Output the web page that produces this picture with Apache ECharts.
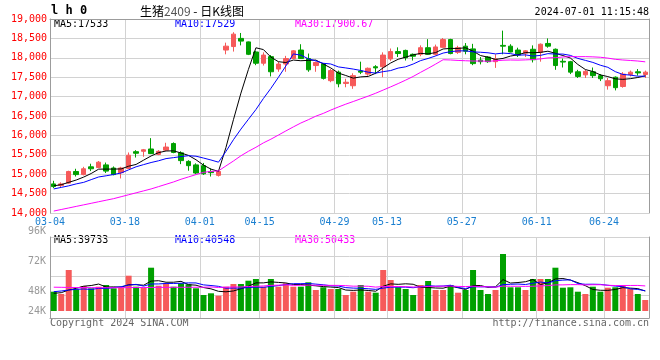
<!DOCTYPE html>
<html><head><meta charset="utf-8">
<script src="https://cdn.jsdelivr.net/npm/echarts/dist/echarts.min.js"></script>
<style>html,body{margin:0;padding:0;background:#fff}#c{width:660px;height:360px}</style>
</head><body><div id="c"></div>
<script>
const dates = ['03-04','03-05','03-06','03-07','03-08','03-11','03-12','03-13','03-14','03-15',
'03-18','03-19','03-20','03-21','03-22','03-25','03-26','03-27','03-28','03-29',
'04-01','04-02','04-03','04-08','04-09','04-10','04-11','04-12','04-15','04-16',
'04-17','04-18','04-19','04-22','04-23','04-24','04-25','04-26','04-29','04-30',
'05-06','05-07','05-08','05-09','05-10','05-13','05-14','05-15','05-16','05-17',
'05-20','05-21','05-22','05-23','05-24','05-27','05-28','05-29','05-30','05-31',
'06-03','06-04','06-05','06-06','06-07','06-11','06-12','06-13','06-14','06-17',
'06-18','06-19','06-20','06-21','06-24','06-25','06-26','06-27','06-28','07-01'];
const dateLabelIdx = [0,10,20,28,38,45,55,65,74];

const opens = [14750,14710,14770,15070,14990,15190,15170,15240,15160,15040,
15150,15580,15590,15650,15510,15620,15790,15550,15330,15240,
15220,15070,14970,18200,18290,18500,18410,18150,17860,18030,
17710,17840,17980,18200,17980,17800,17840,17410,17630,17340,
17280,17660,17580,17770,17770,17970,18160,18190,18090,18090,
18260,18090,18270,18470,18140,18300,18230,17940,18020,17900,
18320,18300,18200,18120,18220,18140,18370,18220,17910,17900,
17640,17560,17640,17540,17280,17500,17260,17570,17640,17570];
const closes = [14680,14750,15070,14990,15140,15140,15310,15080,14990,15160,
15490,15540,15630,15530,15590,15700,15560,15350,15220,15030,
15010,15040,15070,18300,18610,18430,18090,17860,18070,17640,
17840,17980,18180,17980,17690,17880,17470,17670,17330,17370,
17540,17630,17730,17740,18070,18160,18110,18000,18040,18260,
18090,18280,18470,18110,18260,18170,17850,17900,17900,17970,
18300,18150,18070,18180,17950,18350,18300,17800,17890,17630,
17520,17650,17540,17460,17410,17230,17580,17630,17610,17630];
const lows = [14640,14670,14750,14940,14970,15080,15160,15030,14970,14890,
15140,15430,15450,15520,15490,15600,15540,15260,15090,15000,
14980,14940,14940,18090,18160,18320,18070,17810,17800,17520,
17640,17640,17970,17970,17640,17640,17440,17370,17240,17240,
17200,17580,17540,17580,17500,17920,18020,17930,17930,18040,
18080,18060,18260,18090,18100,18090,17810,17830,17870,17740,
18090,18140,18020,18020,17880,17900,18260,17690,17750,17580,
17480,17480,17480,17400,17180,17160,17230,17520,17540,17480];
const highs = [14830,14790,15090,15140,15190,15270,15340,15300,15200,15190,
15560,15620,15650,15930,15620,15810,15820,15590,15360,15280,
15290,15150,15090,18390,18660,18640,18420,18180,18140,18070,
17900,18050,18200,18350,18110,17900,17860,17710,17670,17460,
17600,17900,17750,17810,18140,18240,18270,18210,18110,18320,
18480,18340,18510,18490,18310,18380,18360,18020,18040,18090,
18700,18350,18260,18200,18320,18370,18500,18240,17980,17920,
17690,17690,17750,17580,17480,17520,17630,17670,17710,17670];

const ma5 = [14700,14730,14790,14850,14926,15018,15130,15132,15132,15136,
15206,15252,15362,15470,15556,15598,15602,15546,15484,15372,
15234,15130,15074,15690,16406,17090,17700,18258,18212,18018,
17900,17878,17942,17924,17934,17942,17840,17738,17608,17544,
17476,17508,17520,17602,17742,17866,17962,18016,18076,18114,
18100,18134,18228,18242,18242,18258,18172,18058,18016,17958,
17984,18044,18078,18134,18130,18140,18170,18116,18058,17994,
17828,17698,17646,17560,17516,17458,17444,17462,17492,17536];
const ma10 = [14620,14660,14700,14750,14790,14860,14929,14959,14993,15031,
15112,15191,15247,15301,15346,15402,15427,15454,15477,15464,
15416,15366,15310,15587,15889,16162,16415,16666,16951,17212,
17495,17789,18100,18068,17976,17921,17859,17840,17766,17739,
17709,17674,17629,17605,17643,17671,17735,17768,17839,17928,
17983,18048,18122,18159,18178,18179,18153,18143,18129,18100,
18121,18108,18068,18075,18044,18062,18107,18097,18096,18062,
17984,17934,17881,17809,17755,17643,17571,17554,17526,17526];
const ma30 = [14050,14090,14130,14170,14210,14250,14290,14330,14370,14420,
14470,14520,14570,14620,14680,14740,14800,14870,14930,14990,
15048,15072,15086,15213,15340,15475,15590,15693,15807,15902,
16008,16115,16219,16319,16404,16495,16567,16653,16731,16805,
16873,16943,17013,17087,17169,17251,17336,17425,17519,17626,
17729,17837,17950,17944,17932,17924,17916,17917,17911,17922,
17938,17943,17940,17946,17955,17971,17998,18003,18021,18030,
18029,18030,18024,18014,17992,17961,17944,17931,17917,17896];

// volume in thousands of lots
const volumesK = [38.6,34,82,43.4,50,45.4,48.6,52,45.4,46.6,
70.6,48.6,46.6,86.6,50.6,55.4,48.6,55.4,53.4,45.4,
32,35.4,30.6,48.6,54,54,60.6,64,48.6,64,
48.6,55.4,48.6,48.6,57.4,42,47.4,44,44,32,
38.6,52,38.6,36.6,82,62,47.4,44,32,52,
60,42,42,52,36.6,42,82,42,34,42,
114,47.4,47.4,42,64,64,64,86.6,46.6,47.4,
38.6,34,48.6,38.6,46.6,47.4,52,44,34,22];
const volMa5 = [35.4,36.6,42,45.4,49.6,50.96,53.88,47.88,48.28,47.6,
52.64,52.64,51.56,59.8,60.6,57.56,57.56,59.32,52.68,51.64,
46.96,44.32,39.36,38.4,40.12,44.52,49.56,56.24,56.24,58.24,
57.16,56.12,53.04,53.04,51.72,50.4,48.8,47.88,46.96,41.88,
41.2,42.12,41.04,39.56,49.56,54.24,53.32,54.4,53.48,47.48,
47.08,46,45.6,49.6,46.52,42.92,50.92,50.92,47.32,48.4,
62.8,55.88,56.96,58.56,62.96,52.96,56.28,64.12,65.04,61.72,
56.64,50.64,43.04,41.44,41.28,43.04,46.64,45.72,44.8,39.88];
const volMa10 = [38.6,40,42,43.4,44,43.18,45.24,44.94,46.84,48.6,
51.8,53.26,49.72,54.04,54.1,55.1,55.1,55.44,56.24,56.12,
52.26,50.94,49.34,45.54,45.88,45.74,46.94,47.8,47.32,49.18,
50.84,52.84,54.64,54.64,54.98,53.78,52.46,50.46,50,46.8,
45.8,45.46,44.46,43.26,45.72,47.72,47.72,47.72,46.52,48.52,
50.66,49.66,50,51.54,47,45,48.46,48.26,48.46,47.46,
52.86,53.4,53.94,52.94,55.68,57.88,56.08,60.54,61.8,62.34,
54.8,53.46,53.58,53.24,51.5,49.84,48.64,44.38,43.12,40.58];
const volMa30 = [47.6,47.4,47.1,47,46.9,46.7,46.6,46.6,46.5,46.6,
46.8,46.9,47,47.2,47.3,47.3,47.4,47.4,47.5,47.5,
47.55,48.07,47.02,47.66,47.99,48.01,49.09,49.39,50.13,51.3,
51.63,52.35,51.23,51.41,51.65,51.54,51.5,51.23,51.19,50.7,
49.63,49.75,49.48,47.81,48.86,49.08,49.04,48.66,47.95,48.17,
49.1,49.32,49.7,49.81,49.23,48.83,49.55,48.81,48.33,47.59,
49.77,49.51,49.47,49.25,49.47,50.2,50.75,52.17,52.26,52.77,
52.77,52.17,52.51,52.57,51.39,50.91,51.06,51.06,51.13,50.13];

const priceMin = 14000, priceMax = 19000, priceStep = 500;
const volTickLabels = ['24K','48K','72K','96K'];
const volTickSlots = [0,2,5,8];
const priceLegend = ['MA5:17533','MA10:17529','MA30:17900.67'];
const volLegend = ['MA5:39733','MA10:40548','MA30:50433'];
const titleCode = 'l h 0';
const timeStamp = '2024-07-01 11:15:48';

const RED = '#f65a5a', GREEN = '#00a000';
const GRID_C = '#d2d2d2', FRAME_C = '#9c9c9c';
const MONO = '"DejaVu Sans Mono", monospace';
const isLabelIdx = (i) => dateLabelIdx.indexOf(i) >= 0;
const maColors = ['#000000', '#0000ff', '#ff00ff'];
const volSlotNames = Array.from({length: 9}, (_, k) => String(k));
const gridLine = () => ({color: GRID_C, width: 1, type: 'solid'});

const lineSeries = (data, color, xi, yi) => ({
  type: 'line', data, xAxisIndex: xi, yAxisIndex: yi, symbol: 'none',
  lineStyle: {color, width: 1}, itemStyle: {color}, z: 5, silent: true
});

const option = {
  animation: false,
  backgroundColor: '#ffffff',
  textStyle: {fontFamily: MONO},
  grid: [
    {left: 50, width: 599, top: 19, height: 194},
    {left: 50, width: 599, top: 237, height: 74},
    {left: 50, width: 599, top: 237, height: 81},
    {left: 50, width: 599, top: 237, height: 78},
    {left: 50, width: 599, top: 231, height: 80}
  ],
  xAxis: [
    {type: 'category', gridIndex: 0, data: dates, boundaryGap: true, position: 'bottom',
     axisLine: {show: false}, axisTick: {show: false},
     axisLabel: {show: true, interval: (i) => isLabelIdx(i), color: '#1a7fd0', fontSize: 10,
                 fontFamily: MONO, margin: 4, padding: [0, 7.5, 0, 0]},
     splitLine: {show: true, interval: (i) => isLabelIdx(i), lineStyle: gridLine()}},
    {type: 'category', gridIndex: 0, data: dates, position: 'top',
     axisLine: {show: true, lineStyle: {color: FRAME_C}}, axisTick: {show: false},
     axisLabel: {show: false}, splitLine: {show: false}},
    {type: 'category', gridIndex: 1, data: dates, show: false},
    {type: 'category', gridIndex: 2, data: dates, position: 'bottom',
     axisLine: {show: true, lineStyle: {color: FRAME_C}}, axisTick: {show: false},
     axisLabel: {show: false},
     splitLine: {show: true, interval: (i) => isLabelIdx(i), lineStyle: gridLine()}},
    {type: 'value', gridIndex: 3, show: false, min: 0, max: 1},
    {type: 'value', gridIndex: 4, show: false, min: 0, max: 1}
  ],
  yAxis: [
    {type: 'value', gridIndex: 0, position: 'left', min: priceMin, max: priceMax, interval: priceStep,
     axisLine: {show: true, lineStyle: {color: FRAME_C}}, axisTick: {show: false},
     axisLabel: {color: '#ff0000', fontSize: 10, fontFamily: MONO, margin: 3},
     splitLine: {show: true, lineStyle: gridLine()}},
    {type: 'value', gridIndex: 0, position: 'right', min: priceMin, max: priceMax,
     axisLine: {show: true, lineStyle: {color: FRAME_C}}, axisTick: {show: false},
     axisLabel: {show: false}, splitLine: {show: false}},
    {type: 'value', gridIndex: 1, min: 0, max: 148, show: false},
    {type: 'value', gridIndex: 2, position: 'left', min: 0, max: 1,
     axisLine: {show: true, onZero: false, lineStyle: {color: FRAME_C}}, axisTick: {show: false},
     axisLabel: {show: false}, splitLine: {show: false}},
    {type: 'value', gridIndex: 2, position: 'right', min: 0, max: 1,
     axisLine: {show: true, onZero: false, lineStyle: {color: FRAME_C}}, axisTick: {show: false},
     axisLabel: {show: false}, splitLine: {show: false}},
    {type: 'value', gridIndex: 3, inverse: true, min: 0, max: 78, interval: 19.5,
     axisLine: {show: false}, axisTick: {show: false}, axisLabel: {show: false},
     splitLine: {show: true, showMaxLine: false, lineStyle: gridLine()}},
    {type: 'category', gridIndex: 4, data: volSlotNames, boundaryGap: false,
     axisLine: {show: false}, axisTick: {show: false}, splitLine: {show: false},
     axisLabel: {interval: 0, color: '#999999', fontSize: 10, fontFamily: MONO, margin: 4,
       formatter: (v, idx) => { const k = volTickSlots.indexOf(idx); return k >= 0 ? volTickLabels[k] : ''; }}}
  ],
  series: [
    {type: 'candlestick', xAxisIndex: 0, yAxisIndex: 0, barWidth: 5,
     data: dates.map((d, i) => [opens[i], closes[i], lows[i], highs[i]]),
     itemStyle: {color: RED, color0: GREEN, borderColor: RED, borderColor0: GREEN, borderWidth: 1}},
    lineSeries(ma5, maColors[0], 0, 0),
    lineSeries(ma10, maColors[1], 0, 0),
    lineSeries(ma30, maColors[2], 0, 0),
    {type: 'bar', xAxisIndex: 2, yAxisIndex: 2, barWidth: 6,
     data: volumesK.map((v, i) => ({value: v, itemStyle: {color: closes[i] >= opens[i] ? RED : GREEN}}))},
    lineSeries(volMa5, maColors[0], 2, 2),
    lineSeries(volMa10, maColors[1], 2, 2),
    lineSeries(volMa30, maColors[2], 2, 2)
  ],
  graphic: [
    {type: 'text', x: 51, y: 11, style: {text: titleCode, fill: '#000', font: 'bold 12px ' + MONO, textVerticalAlign: 'middle'}},
    {type: 'text', x: 140, y: 11, style: {
      text: '{a|生猪}{b|2409}{a| - 日K线图}', textVerticalAlign: 'middle',
      rich: {a: {fill: '#000', font: '12px "Noto Sans CJK SC"'}, b: {fill: '#555', font: '12px "Noto Sans CJK SC"'}}}},
    {type: 'text', x: 649, y: 12, style: {text: timeStamp, fill: '#000', font: '10px ' + MONO, textAlign: 'right', textVerticalAlign: 'middle'}},
    {type: 'text', x: 54, y: 24, style: {text: priceLegend[0], fill: maColors[0], font: '10px ' + MONO, textVerticalAlign: 'middle'}},
    {type: 'text', x: 175, y: 24, style: {text: priceLegend[1], fill: maColors[1], font: '10px ' + MONO, textVerticalAlign: 'middle'}},
    {type: 'text', x: 295, y: 24, style: {text: priceLegend[2], fill: maColors[2], font: '10px ' + MONO, textVerticalAlign: 'middle'}},
    {type: 'text', x: 54, y: 240, style: {text: volLegend[0], fill: maColors[0], font: '10px ' + MONO, textVerticalAlign: 'middle'}},
    {type: 'text', x: 175, y: 240, style: {text: volLegend[1], fill: maColors[1], font: '10px ' + MONO, textVerticalAlign: 'middle'}},
    {type: 'text', x: 295, y: 240, style: {text: volLegend[2], fill: maColors[2], font: '10px ' + MONO, textVerticalAlign: 'middle'}},
    {type: 'text', x: 50, y: 323, style: {text: 'Copyright 2024 SINA.COM', fill: '#666', font: '10px ' + MONO, textVerticalAlign: 'middle'}},
    {type: 'text', x: 649, y: 323, style: {text: 'http://finance.sina.com.cn', fill: '#666', font: '10px ' + MONO, textAlign: 'right', textVerticalAlign: 'middle'}}
  ]
};
const chart = echarts.init(document.getElementById('c'));
chart.setOption(option);
</script></body></html>
